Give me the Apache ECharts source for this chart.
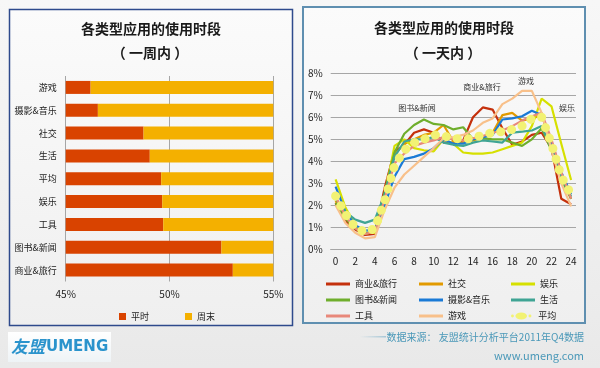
<!DOCTYPE html>
<html>
<head>
<meta charset="utf-8">
<script src="https://cdn.jsdelivr.net/npm/echarts@6/dist/echarts.min.js"></script>
<style>
html,body{margin:0;padding:0;background:#f0f0f0;}
#main{width:600px;height:368px;}
</style>
</head>
<body>
<div id="main"></div>
<script>
// ---- Left chart data (weekly) ----
const barCategories = ['游戏', '摄影&音乐', '社交', '生活', '平均', '娱乐', '工具', '图书&新闻', '商业&旅行'];
const weekdayValues = [46.2, 46.55, 48.75, 49.05, 49.6, 49.65, 49.7, 52.5, 53.05];
const weekendValues = [53.8, 53.45, 51.25, 50.95, 50.4, 50.35, 50.3, 47.5, 46.95];
const barTicks = [45, 50, 55];

// ---- Right chart data (daily) ----
const hours = ['0','1','2','3','4','5','6','7','8','9','10','11','12','13','14','15','16','17','18','19','20','21','22','23','24'];
const business = [2.1, 1.3, 0.9, 0.65, 0.7, 2.8, 4.45, 4.75, 5.3, 5.45, 5.3, 4.85, 4.85, 4.95, 6.0, 6.45, 6.35, 5.5, 4.75, 4.9, 5.2, 5.3, 4.6, 2.3, 2.05];
const social = [2.2, 1.45, 0.95, 0.7, 0.8, 2.5, 4.3, 4.8, 5.0, 5.2, 5.3, 5.65, 4.9, 4.85, 4.95, 5.1, 5.3, 6.1, 6.2, 5.85, 5.95, 6.1, 4.8, 3.3, 2.3];
const entertainment = [3.18, 1.9, 1.1, 0.75, 0.75, 2.4, 4.7, 5.0, 4.6, 4.5, 4.45, 5.0, 4.8, 4.4, 4.35, 4.35, 4.4, 4.55, 4.7, 4.85, 5.6, 6.85, 6.5, 4.8, 3.15];
const books = [2.1, 1.4, 0.95, 0.7, 0.85, 2.6, 4.4, 5.25, 5.65, 5.9, 5.7, 5.65, 5.45, 5.55, 5.0, 5.05, 5.0, 5.0, 4.85, 4.7, 5.0, 5.5, 4.5, 3.2, 2.3];
const photoMusic = [2.85, 1.7, 1.1, 0.85, 0.9, 2.0, 3.3, 4.1, 4.2, 4.35, 4.6, 5.0, 4.8, 4.8, 5.0, 5.1, 5.2, 5.9, 5.95, 6.05, 6.3, 6.1, 4.9, 3.5, 2.5];
const life = [2.3, 1.7, 1.35, 1.2, 1.35, 2.5, 4.2, 4.9, 5.0, 5.0, 5.1, 4.85, 4.75, 4.7, 4.85, 4.95, 4.9, 4.85, 5.3, 5.35, 5.4, 5.6, 4.6, 3.3, 2.4];
const tools = [2.4, 1.5, 0.95, 0.7, 0.8, 2.3, 3.9, 4.35, 4.7, 4.85, 4.95, 5.1, 5.0, 4.95, 5.05, 5.15, 5.3, 5.4, 5.6, 5.85, 6.05, 6.2, 5.0, 3.5, 2.3];
const games = [2.0, 1.2, 0.75, 0.5, 0.55, 1.8, 2.8, 3.4, 3.8, 4.2, 4.6, 5.05, 5.1, 5.2, 5.4, 5.75, 5.95, 6.6, 6.85, 7.2, 7.2, 6.2, 4.5, 3.0, 1.95];
const average = [2.42, 1.6, 1.0, 0.78, 0.95, 2.2, 3.8, 4.5, 4.85, 5.0, 5.2, 5.15, 5.05, 5.0, 5.05, 5.2, 5.3, 5.35, 5.45, 5.6, 5.95, 6.0, 4.8, 3.3, 2.5];
const lineTicks = [0, 1, 2, 3, 4, 5, 6, 7, 8];

const FONT = '"Noto Sans CJK SC", "Noto Sans", sans-serif';
const chart = echarts.init(document.getElementById('main'));

const lineSeriesDefs = [
  {name: '商业&旅行', data: business, color: '#c4300c'},
  {name: '社交', data: social, color: '#e29a00'},
  {name: '娱乐', data: entertainment, color: '#d6e000'},
  {name: '图书&新闻', data: books, color: '#6fae2c'},
  {name: '摄影&音乐', data: photoMusic, color: '#1a7ad6'},
  {name: '生活', data: life, color: '#3fa494'},
  {name: '工具', data: tools, color: '#e8887a'},
  {name: '游戏', data: games, color: '#f8c08a'}
];

const series = [
  {
    name: '平时', type: 'bar', stack: 'w', xAxisIndex: 0, yAxisIndex: 0,
    data: weekdayValues, barWidth: 13, itemStyle: {color: '#d94300'}, clip: true
  },
  {
    name: '周末', type: 'bar', stack: 'w', xAxisIndex: 0, yAxisIndex: 0,
    data: weekendValues, barWidth: 13, itemStyle: {color: '#f4b000'}, clip: true
  }
];
lineSeriesDefs.forEach(d => {
  series.push({
    name: d.name, type: 'line', xAxisIndex: 1, yAxisIndex: 1, data: d.data,
    symbol: 'none', showSymbol: false,
    itemStyle: {color: d.color}, lineStyle: {color: d.color, width: 2.2}
  });
});
series.push({
  name: '平均', type: 'line', xAxisIndex: 1, yAxisIndex: 1, data: average,
  symbol: 'none', showSymbol: false, z: 5,
  itemStyle: {color: '#f2f274'},
  lineStyle: {color: '#f2f274', width: 9, type: [0.1, 11], cap: 'round', join: 'round'}
});

const lgText = {fontFamily: FONT, fontSize: 9, color: '#222'};
const avgIcon = 'path://M1.5,4a1.5,1.5 0 1,0 3,0a1.5,1.5 0 1,0 -3,0Z M6,4a6,3.6 0 1,0 12,0a6,3.6 0 1,0 -12,0Z M19.5,4a1.5,1.5 0 1,0 3,0a1.5,1.5 0 1,0 -3,0Z';

const option = {
  backgroundColor: {
    type: 'linear', x: 0, y: 0, x2: 0, y2: 1,
    colorStops: [{offset: 0, color: '#f7f7f7'}, {offset: 1, color: '#e9e9e9'}]
  },
  animation: false,
  textStyle: {fontFamily: FONT},
  graphic: [
    {type: 'rect', z: -10, shape: {x: 9.5, y: 9.5, width: 283, height: 316},
     style: {stroke: '#2e4a8c', lineWidth: 1.5,
       fill: {type: 'linear', x: 0, y: 0, x2: 0, y2: 1, colorStops: [{offset: 0, color: '#fbfbfb'}, {offset: 1, color: '#efefef'}]}}},
    {type: 'rect', z: -10, shape: {x: 303, y: 7, width: 282, height: 316},
     style: {stroke: '#5f8fb0', lineWidth: 2,
       fill: {type: 'linear', x: 0, y: 0, x2: 0, y2: 1, colorStops: [{offset: 0, color: '#fbfbfb'}, {offset: 1, color: '#efefef'}]}}},
    {type: 'text', x: 151, y: 29, style: {text: '各类型应用的使用时段', font: 'bold 14px ' + FONT, fill: '#1a1a1a', textAlign: 'center', textVerticalAlign: 'middle'}},
    {type: 'text', x: 150, y: 53, style: {text: '（ 一周内 ）', font: 'bold 14px ' + FONT, fill: '#1a1a1a', textAlign: 'center', textVerticalAlign: 'middle'}},
    {type: 'text', x: 444, y: 28, style: {text: '各类型应用的使用时段', font: 'bold 14px ' + FONT, fill: '#1a1a1a', textAlign: 'center', textVerticalAlign: 'middle'}},
    {type: 'text', x: 443, y: 53, style: {text: '（ 一天内 ）', font: 'bold 14px ' + FONT, fill: '#1a1a1a', textAlign: 'center', textVerticalAlign: 'middle'}},
    {type: 'text', x: 417, y: 108, z: 10, style: {text: '图书&新闻', font: '8px ' + FONT, fill: '#333', textAlign: 'center', textVerticalAlign: 'middle'}},
    {type: 'text', x: 482, y: 87, z: 10, style: {text: '商业&旅行', font: '8px ' + FONT, fill: '#333', textAlign: 'center', textVerticalAlign: 'middle'}},
    {type: 'text', x: 526, y: 81, z: 10, style: {text: '游戏', font: '8px ' + FONT, fill: '#333', textAlign: 'center', textVerticalAlign: 'middle'}},
    {type: 'text', x: 567, y: 108, z: 10, style: {text: '娱乐', font: '8px ' + FONT, fill: '#333', textAlign: 'center', textVerticalAlign: 'middle'}},
    {type: 'rect', shape: {x: 360, y: 336, width: 26, height: 1.5},
     style: {fill: {type: 'linear', x: 0, y: 0, x2: 1, y2: 0, colorStops: [{offset: 0, color: 'rgba(150,190,210,0)'}, {offset: 1, color: 'rgba(150,190,210,0.8)'}]}}},
    {type: 'text', x: 584, y: 337, style: {text: '数据来源： 友盟统计分析平台2011年Q4数据', font: '10px ' + FONT, fill: '#4a98b8', textAlign: 'right', textVerticalAlign: 'middle'}},
    {type: 'text', x: 584, y: 356, style: {text: 'www.umeng.com', font: '11px ' + FONT, fill: '#4a98b8', textAlign: 'right', textVerticalAlign: 'middle'}},
    {type: 'rect', shape: {x: 8, y: 332, width: 103, height: 30},
     style: {fill: {type: 'linear', x: 0, y: 0, x2: 0, y2: 1, colorStops: [{offset: 0, color: '#ffffff'}, {offset: 1, color: '#eef3f6'}]}}},
    {type: 'text', x: 11, y: 347, style: {text: '友盟', font: 'italic bold 17px ' + FONT, fill: '#2a93cc', textVerticalAlign: 'middle'}},
    {type: 'text', x: 46, y: 347, style: {text: 'UMENG', font: 'bold 15px "DejaVu Sans", sans-serif', fill: '#2a93cc', textVerticalAlign: 'middle'}}
  ],
  grid: [
    {left: 65.7, top: 76, width: 207.6, height: 205.5},
    {left: 330.7, top: 73.3, width: 245.3, height: 176}
  ],
  xAxis: [
    {
      gridIndex: 0, type: 'value', min: barTicks[0], max: barTicks[barTicks.length - 1], interval: 5,
      axisLine: {show: false}, axisTick: {show: false},
      splitLine: {show: true, lineStyle: {color: '#a6a6a6', width: 1}},
      axisLabel: {formatter: '{value}%', fontSize: 10, color: '#222', margin: 8, fontFamily: FONT}
    },
    {
      gridIndex: 1, type: 'category', data: hours, boundaryGap: true,
      axisLine: {show: true, lineStyle: {color: '#a6a6a6'}}, axisTick: {show: false},
      axisLabel: {interval: 1, fontSize: 10, color: '#222', margin: 7, fontFamily: FONT}
    }
  ],
  yAxis: [
    {
      gridIndex: 0, type: 'category', data: barCategories, inverse: true,
      axisLine: {show: false}, axisTick: {show: false},
      axisLabel: {fontSize: 9, color: '#222', margin: 9, fontFamily: FONT}
    },
    {
      gridIndex: 1, type: 'value', min: lineTicks[0], max: lineTicks[lineTicks.length - 1], interval: 1,
      axisLine: {show: false}, axisTick: {show: false},
      splitLine: {show: true, lineStyle: {color: '#a6a6a6', width: 1}},
      axisLabel: {formatter: '{value}%', fontSize: 10, color: '#222', margin: 8, fontFamily: FONT}
    }
  ],
  legend: [
    {left: 114, top: 307, itemWidth: 7, itemHeight: 7, itemGap: 36, icon: 'rect',
     data: ['平时', '周末'], textStyle: lgText},
    {left: 321, top: 272, orient: 'vertical', itemWidth: 24, itemHeight: 3, itemGap: 2, icon: 'rect',
     data: ['商业&旅行', '图书&新闻', '工具'], textStyle: Object.assign({lineHeight: 14}, lgText)},
    {left: 414, top: 272, orient: 'vertical', itemWidth: 24, itemHeight: 3, itemGap: 2, icon: 'rect',
     data: ['社交', '摄影&音乐', '游戏'], textStyle: Object.assign({lineHeight: 14}, lgText)},
    {left: 506, top: 272, orient: 'vertical', itemWidth: 24, itemHeight: 3, itemGap: 2, icon: 'rect',
     data: ['娱乐', '生活'], textStyle: Object.assign({lineHeight: 14}, lgText)},
    {left: 506, top: 304, itemWidth: 24, itemHeight: 7,
     data: [{name: '平均', icon: avgIcon}], textStyle: Object.assign({lineHeight: 14}, lgText)}
  ],
  series: series
};
chart.setOption(option);
</script>
</body>
</html>
